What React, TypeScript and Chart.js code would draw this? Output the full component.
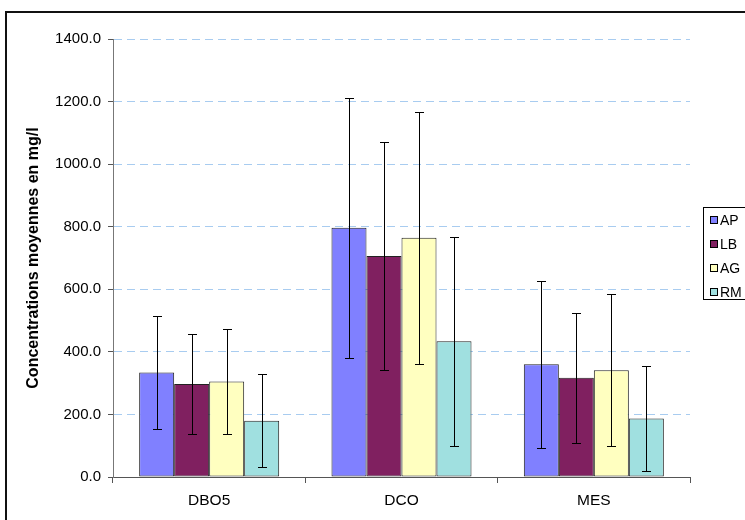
import React, { useEffect, useRef } from "react";
import { Chart, registerables } from "chart.js";

Chart.register(...registerables);

const categories = ["DBO5", "DCO", "MES"];
const seriesNames = ["AP", "LB", "AG", "RM"];
const apValues = [334, 797, 360];
const lbValues = [297, 706, 317];
const agValues = [305, 765, 341];
const rmValues = [180, 434, 187];
const apErrors = [180, 416, 267];
const lbErrors = [161, 365, 208];
const agErrors = [167, 403, 243];
const rmErrors = [149, 334, 169];
const seriesColors = ["#8080FF", "#802060", "#FFFFC0", "#A0E0E0"];
const yTitle = "Concentrations moyennes en mg/l";
const yMin = 0;
const yMax = 1400;
const yStep = 200;

const FONT = "'Liberation Sans', Arial, sans-serif";

const errorBarPlugin = {
  id: "errorBars",
  afterDatasetsDraw(chart: any) {
    const ctx = chart.ctx;
    const yScale = chart.scales.y;
    ctx.save();
    ctx.strokeStyle = "#000";
    ctx.lineWidth = 1;
    chart.data.datasets.forEach((ds: any, di: number) => {
      const meta = chart.getDatasetMeta(di);
      meta.data.forEach((bar: any, i: number) => {
        const v = ds.data[i];
        const e = ds.errors[i];
        const x = Math.round(bar.x) + 0.5;
        const yTop = Math.round(yScale.getPixelForValue(v + e)) + 0.5;
        const yBot = Math.round(yScale.getPixelForValue(v - e)) + 0.5;
        ctx.beginPath();
        ctx.moveTo(x, yTop);
        ctx.lineTo(x, yBot);
        ctx.moveTo(x - 4.5, yTop);
        ctx.lineTo(x + 4.5, yTop);
        ctx.moveTo(x - 4.5, yBot);
        ctx.lineTo(x + 4.5, yBot);
        ctx.stroke();
      });
    });
    ctx.restore();
  },
};

const decorPlugin = {
  id: "decor",
  afterDraw(chart: any) {
    const ctx = chart.ctx;
    ctx.save();
    // outer frame
    ctx.strokeStyle = "#111";
    ctx.lineWidth = 2;
    ctx.strokeRect(6, 12, 800, 600);
    // y title
    ctx.save();
    ctx.translate(34, 258);
    ctx.rotate(-Math.PI / 2);
    ctx.font = "bold 16px " + FONT;
    ctx.fillStyle = "#000";
    ctx.textAlign = "center";
    ctx.textBaseline = "middle";
    ctx.fillText(yTitle, 0, 0);
    ctx.restore();
    // legend
    ctx.strokeStyle = "#000";
    ctx.lineWidth = 1;
    ctx.fillStyle = "#fff";
    ctx.fillRect(703.5, 207.5, 100, 92);
    ctx.strokeRect(703.5, 207.5, 100, 92);
    ctx.font = "14px " + FONT;
    ctx.textBaseline = "middle";
    ctx.textAlign = "left";
    seriesNames.forEach((name, i) => {
      const cy = 220 + i * 24;
      ctx.fillStyle = seriesColors[i];
      ctx.fillRect(710.5, cy - 3.5, 7, 7);
      ctx.strokeStyle = "#000";
      ctx.strokeRect(710.5, cy - 3.5, 7, 7);
      ctx.fillStyle = "#000";
      ctx.fillText(name, 720, cy + 1);
    });
    ctx.restore();
  },
};

export default function App() {
  const canvasRef = useRef<HTMLCanvasElement | null>(null);

  useEffect(() => {
    const canvas = canvasRef.current;
    if (!canvas) return;
    const values = [apValues, lbValues, agValues, rmValues];
    const errors = [apErrors, lbErrors, agErrors, rmErrors];
    const chart = new Chart(canvas, {
      type: "bar",
      data: {
        labels: categories,
        datasets: seriesNames.map((name, i) => ({
          label: name,
          data: values[i],
          errors: errors[i],
          backgroundColor: seriesColors[i],
          borderColor: "#222",
          borderWidth: 1,
          borderSkipped: false,
          categoryPercentage: 0.728,
          barPercentage: 1.0,
        })) as any,
      },
      options: {
        animation: false,
        responsive: false,
        devicePixelRatio: 1,
        layout: { padding: { top: 39, right: 55, left: 0, bottom: 0 } },
        plugins: {
          legend: { display: false },
          tooltip: { enabled: false },
          title: { display: false },
        },
        scales: {
          x: {
            type: "category",
            offset: true,
            grid: {
              display: true,
              offset: true,
              drawOnChartArea: false,
              drawTicks: true,
              tickLength: 6,
              tickColor: "#555",
            },
            border: { display: true, color: "#555", width: 1 },
            ticks: {
              color: "#000",
              font: { family: FONT, size: 15.5 },
              padding: 8,
            },
            afterFit: (scale: any) => {
              scale.height = 43;
            },
          },
          y: {
            type: "linear",
            min: yMin,
            max: yMax,
            grid: {
              display: true,
              drawOnChartArea: true,
              drawTicks: true,
              tickLength: 5,
              tickColor: "#555",
              tickBorderDash: [],
              color: (c: any) => (c.tick && c.tick.value === 0 ? "rgba(0,0,0,0)" : "#A8CCF0"),
              lineWidth: 1,
            },
            border: { display: true, color: "#777", width: 1, dash: [8, 5] },
            ticks: {
              stepSize: yStep,
              color: "#000",
              font: { family: FONT, size: 15 },
              padding: 7,
              callback: (v: any) => Number(v).toFixed(1),
            },
            afterFit: (scale: any) => {
              scale.width = 113;
            },
          },
        },
      } as any,
      plugins: [errorBarPlugin, decorPlugin],
    });
    return () => chart.destroy();
  }, []);

  return (
    <div style={{ position: "absolute", left: 0, top: 0, width: 745, height: 520, background: "#fff" }}>
      <canvas ref={canvasRef} width={745} height={520} style={{ display: "block" }} />
    </div>
  );
}
